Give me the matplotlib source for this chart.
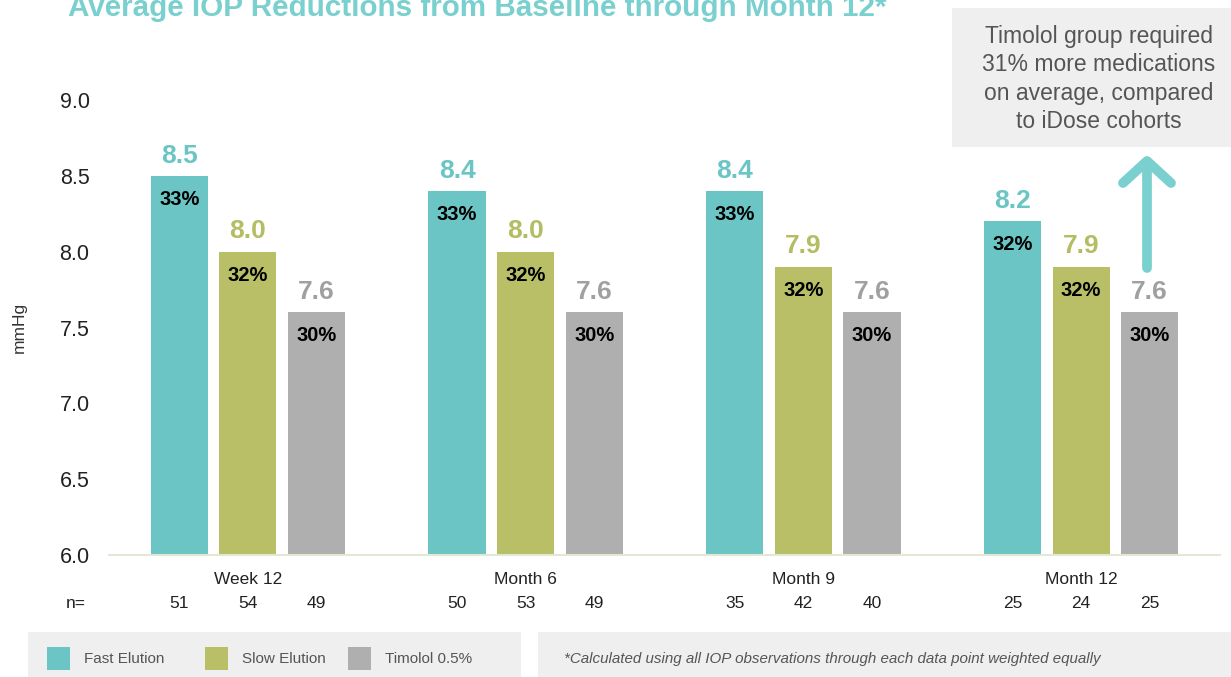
"""
Average IOP reductions from baseline through month 12 (iDose vs timolol).
"""

import numpy as np
import matplotlib
matplotlib.use("Agg")
import matplotlib.pyplot as plt
import matplotlib.transforms as mtrans
from matplotlib.patches import Rectangle
from matplotlib.lines import Line2D

plt.rcParams["font.family"] = ["Liberation Sans", "DejaVu Sans"]

# data
timepoints = ["Week 12", "Month 6", "Month 9", "Month 12"]
series = ["Fast Elution", "Slow Elution", "Timolol 0.5%"]
fast_vals = [8.5, 8.4, 8.4, 8.2]
slow_vals = [8.0, 8.0, 7.9, 7.9]
timolol_vals = [7.6, 7.6, 7.6, 7.6]
fast_pct = ["33%", "33%", "33%", "32%"]
slow_pct = ["32%", "32%", "32%", "32%"]
timolol_pct = ["30%", "30%", "30%", "30%"]
fast_n = [51, 50, 35, 25]
slow_n = [54, 53, 42, 24]
timolol_n = [49, 49, 40, 25]
yticks = [6.0, 6.5, 7.0, 7.5, 8.0, 8.5, 9.0]

bar_colors = ["#6CC5C5", "#B8BF66", "#AFAFAF"]
label_colors = ["#6CC5C5", "#B5BD63", "#A0A0A0"]
TEAL = "#7ACFCF"

W, H = 1231, 677
fig = plt.figure(figsize=(W / 100, H / 100), dpi=100)


def fx(px):
    return px / W


def fy(py):
    return 1 - py / H


ax = fig.add_axes([fx(109), fy(555), fx(1220) - fx(109), fy(100) - fy(555)])

x = np.arange(len(timepoints))
width = 0.206
step = 0.247
values = [fast_vals, slow_vals, timolol_vals]
pcts = [fast_pct, slow_pct, timolol_pct]
ns = [fast_n, slow_n, timolol_n]

blend = mtrans.blended_transform_factory(ax.transData, ax.transAxes)

for i, (vals, pct, n) in enumerate(zip(values, pcts, ns)):
    xs = x + (i - 1) * step
    ax.bar(xs, np.array(vals) - 6.0, width, bottom=6.0, color=bar_colors[i],
           edgecolor="none", zorder=2)
    for xi, v, p, ni in zip(xs, vals, pct, n):
        ax.annotate(f"{v:.1f}", (xi, v), xytext=(0, 6), textcoords="offset points",
                    ha="center", va="bottom", fontsize=19, fontweight="bold",
                    color=label_colors[i], clip_on=False)
        ax.annotate(p, (xi, v), xytext=(0, -17), textcoords="offset points",
                    ha="center", va="center", fontsize=14.5, fontweight="bold",
                    color="black")
        ax.text(xi, -0.107, str(ni), transform=blend, ha="center", va="center",
                fontsize=12.5, color="#222222")

ax.text(-0.62, -0.107, "n=", transform=blend, ha="center", va="center",
        fontsize=12.5, color="#222222")

ax.set_xlim(-0.5, 3.5)
ax.set_ylim(6.0, 9.0)
ax.set_yticks(yticks)
ax.set_yticklabels([f"{t:.1f}" for t in yticks], fontsize=15.5, color="#222222")
ax.set_xticks(x)
ax.set_xticklabels(timepoints, fontsize=12.5, color="#222222")
ax.tick_params(axis="both", length=0)
ax.tick_params(axis="y", pad=14)
ax.tick_params(axis="x", pad=12)
for s in ["top", "right", "left"]:
    ax.spines[s].set_visible(False)
ax.spines["bottom"].set_color("#E3E8D5")
ax.spines["bottom"].set_linewidth(1.5)

fig.text(fx(19), fy(327), "mmHg", rotation=90, ha="center", va="center",
         fontsize=12.5, color="#333333")

# title (cropped at top like the slide)
fig.text(fx(68), fy(16), "Average IOP Reductions from Baseline through Month 12*",
         fontsize=21.3, fontweight="bold", color=TEAL, ha="left", va="baseline")

# annotation box
fig.patches.append(Rectangle((fx(952), fy(147)), fx(1231) - fx(952), fy(8) - fy(147),
                             transform=fig.transFigure, facecolor="#EFEFEF",
                             edgecolor="none", zorder=0))
fig.text(fx(1099), fy(79), "Timolol group required\n31% more medications\non average, compared\nto iDose cohorts",
         ha="center", va="center", fontsize=16.5, color="#555555", linespacing=1.28)

# arrow
fig.lines.append(Line2D([fx(1147), fx(1147)], [fy(268), fy(162)], transform=fig.transFigure,
                        color=TEAL, linewidth=7, solid_capstyle="round"))
fig.lines.append(Line2D([fx(1123), fx(1147), fx(1171)], [fy(183), fy(161), fy(183)],
                        transform=fig.transFigure, color=TEAL, linewidth=7,
                        solid_capstyle="round", solid_joinstyle="round"))

# legend box
fig.patches.append(Rectangle((fx(28), fy(677)), fx(521) - fx(28), fy(632) - fy(677),
                             transform=fig.transFigure, facecolor="#EFEFEF",
                             edgecolor="none", zorder=0))
legend_x = [47, 205, 348]
for lx, name, c in zip(legend_x, series, bar_colors):
    fig.patches.append(Rectangle((fx(lx), fy(670)), fx(lx + 23) - fx(lx), fy(647) - fy(670),
                                 transform=fig.transFigure, facecolor=c, edgecolor="none"))
    fig.text(fx(lx + 37), fy(659), name, ha="left", va="center", fontsize=11, color="#555555")

# footnote box
fig.patches.append(Rectangle((fx(538), fy(677)), fx(1231) - fx(538), fy(632) - fy(677),
                             transform=fig.transFigure, facecolor="#EFEFEF",
                             edgecolor="none", zorder=0))
fig.text(fx(564), fy(659), "*Calculated using all IOP observations through each data point weighted equally",
         ha="left", va="center", fontsize=10.9, style="italic", color="#555555")

fig.savefig("out.png", dpi=100)
